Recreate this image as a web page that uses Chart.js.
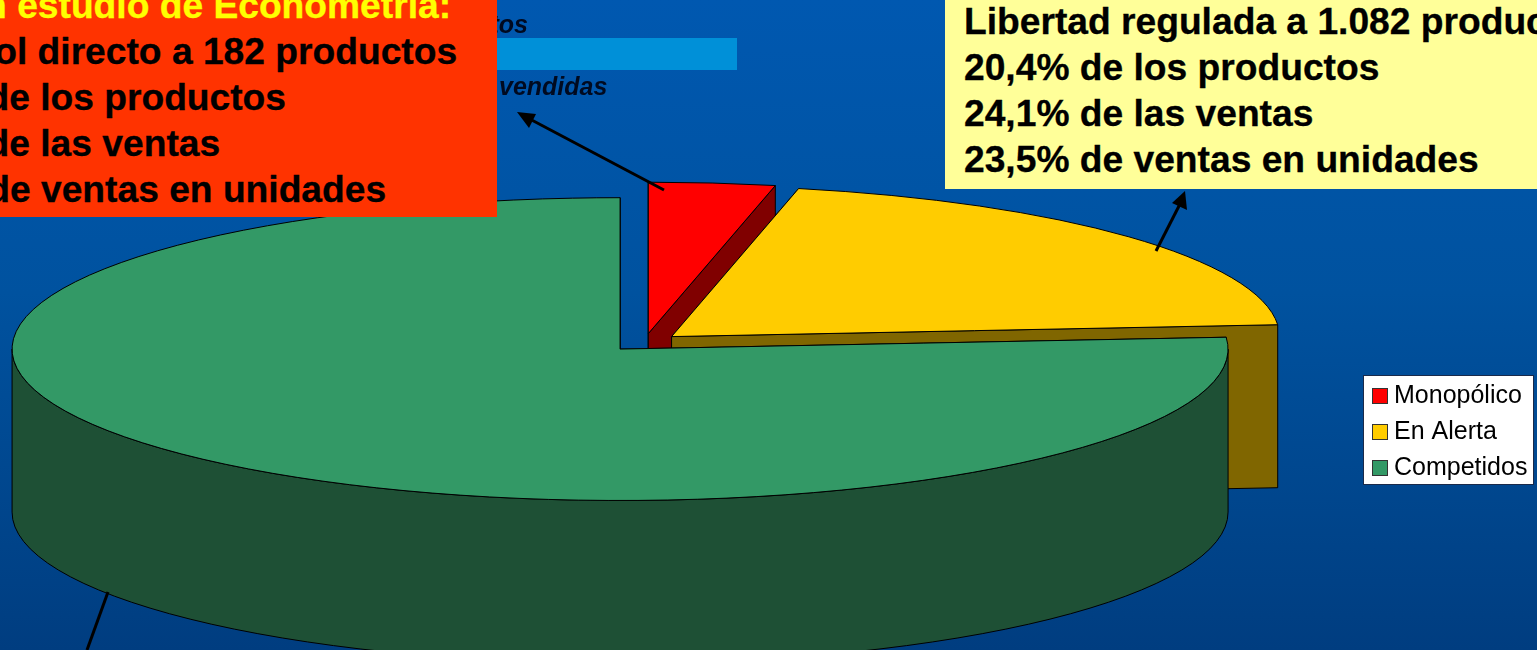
<!DOCTYPE html>
<html lang="es">
<head>
<meta charset="utf-8">
<title>Control de precios</title>
<script src="https://cdn.jsdelivr.net/npm/chart.js@4"></script>
<style>
html,body{margin:0;padding:0;width:1537px;height:650px;overflow:hidden}
body{position:relative;background:linear-gradient(180deg,#0058b0 0%,#00529f 45%,#003d80 100%);font-family:"Liberation Sans",Arial,sans-serif}
canvas{position:absolute;left:0;top:0}
.box{position:absolute}
.line{position:absolute;white-space:nowrap;font-weight:bold;font-size:36px;line-height:46px;color:#000;-webkit-text-stroke:0.3px currentColor}
.small{position:absolute;white-space:nowrap;font-weight:bold;font-style:italic;font-size:25px;line-height:26px;color:#000a20}
svg{position:absolute;left:0;top:0}
</style>
</head>
<body>
<canvas id="c" width="1537" height="650"></canvas>
<div class="box" style="left:497px;top:38px;width:240px;height:32px;background:#0090d8"></div>
<div class="small" style="right:1009px;top:11px">tos</div>
<div class="small" style="left:499px;top:73px">vendidas</div>
<div class="box" style="left:0;top:0;width:497px;height:217px;background:#ff3300"></div>
<div class="box" style="left:945px;top:0;width:592px;height:189px;background:#ffff99"></div>
<div id="labels"></div>
<svg width="1537" height="650" viewBox="0 0 1537 650">
  <g stroke="#000" stroke-width="3" fill="#000">
    <line x1="664" y1="190" x2="526" y2="117"/>
    <line x1="1156" y1="251" x2="1180" y2="204"/>
    <line x1="108" y1="592" x2="87" y2="650"/>
  </g>
  <polygon points="517,112 536,114 529,128" fill="#000"/>
  <polygon points="1185,191 1187,210 1172,203" fill="#000"/>
</svg>
<script>
const categories = ["Monopólico", "En Alerta", "Competidos"];
const productShare = [3.35, 20.4, 76.25];
const topColors = ["#ff0000", "#ffcc00", "#339966"];
const sideColors = ["#800000", "#806600", "#1e5035"];
const leftLines = ["n estudio de Econometría:", "ol directo a 182 productos", "de los productos", "de las ventas", "de ventas en unidades"];
const rightLines = ["Libertad regulada a 1.082 productos", "20,4% de los productos", "24,1% de las ventas", "23,5% de ventas en unidades"];

const labelsHost = document.getElementById("labels");
const leftEnds = [451, 457, 286, 220, 386];
leftLines.forEach((t, i) => {
  const d = document.createElement("div");
  d.className = "line";
  d.textContent = t;
  d.style.right = (1537 - leftEnds[i]) + "px";
  d.style.top = (-17 + 46 * i) + "px";
  d.style.transformOrigin = "right center";
  d.style.transform = "scaleX(1.033)";
  if (i === 0) d.style.color = "#ffff00";
  labelsHost.appendChild(d);
});
rightLines.forEach((t, i) => {
  const d = document.createElement("div");
  d.className = "line";
  d.textContent = t;
  d.style.left = "964px";
  d.style.top = (-1 + 46 * i) + "px";
  d.style.transformOrigin = "left center";
  d.style.transform = "scaleX(1.033)";
  labelsHost.appendChild(d);
});

const TILT = 0.249, DEPTH = 163;

function swatch(color) {
  const s = document.createElement("canvas");
  s.width = 16; s.height = 16;
  const g = s.getContext("2d");
  g.fillStyle = color; g.fillRect(0, 0, 16, 16);
  g.strokeStyle = "#333"; g.lineWidth = 1; g.strokeRect(0.5, 0.5, 15, 15);
  return s;
}

const pie3d = {
  id: "pie3d",
  afterLayout(chart) {
    const l = chart.legend;
    l.left = 1367.5; l.right = 1533; l.top = 372.5; l.bottom = 600;
  },
  beforeDraw(chart) {
    const ctx = chart.ctx;
    ctx.save();
    ctx.fillStyle = "#fff"; ctx.strokeStyle = "#1a2a4a"; ctx.lineWidth = 1;
    ctx.fillRect(1364, 376, 169, 108);
    ctx.strokeRect(1363.5, 375.5, 170, 109);
    ctx.restore();
  },
  beforeDatasetDraw(chart, args) {
    const ctx = chart.ctx;
    const arcs = args.meta.data;
    ctx.save();
    ctx.lineWidth = 1;
    ctx.strokeStyle = "#000";
    ctx.lineJoin = "round";
    arcs.forEach((el, i) => {
      const a0 = el.startAngle, a1 = el.endAngle, r = el.outerRadius;
      const mid = (a0 + a1) / 2, off = el.options.offset;
      const cx = el.x + Math.cos(mid) * off, cy = el.y + Math.sin(mid) * off * TILT;
      const at = (a) => [cx + r * Math.cos(a), cy + r * TILT * Math.sin(a)];
      const paint = (fill) => { ctx.fillStyle = fill; ctx.fill(); ctx.stroke(); };
      [a0, a1].forEach((a) => {
        const p = at(a);
        ctx.beginPath();
        ctx.moveTo(cx, cy); ctx.lineTo(p[0], p[1]);
        ctx.lineTo(p[0], p[1] + DEPTH); ctx.lineTo(cx, cy + DEPTH);
        ctx.closePath();
        paint(sideColors[i]);
      });
      const turn = Math.PI * 2;
      for (let k = -1; k <= 1; k++) {
        const s = Math.max(a0, k * turn), e = Math.min(a1, k * turn + Math.PI);
        if (e > s) {
          ctx.beginPath();
          ctx.ellipse(cx, cy, r, r * TILT, 0, s, e);
          ctx.ellipse(cx, cy + DEPTH, r, r * TILT, 0, e, s, true);
          ctx.closePath();
          paint(sideColors[i]);
        }
      }
      ctx.beginPath();
      ctx.moveTo(cx, cy);
      ctx.ellipse(cx, cy, r, r * TILT, 0, a0, a1);
      ctx.closePath();
      paint(topColors[i]);
    });
    ctx.restore();
    return false;
  }
};

new Chart(document.getElementById("c"), {
  type: "pie",
  data: {
    labels: categories,
    datasets: [{ data: productShare, backgroundColor: topColors, borderColor: "#000", borderWidth: 1, offset: 36 }]
  },
  options: {
    responsive: false,
    animation: false,
    radius: 608,
    rotation: 0,
    layout: { padding: { left: 0, right: 248, top: 35, bottom: 0 } },
    plugins: {
      tooltip: { enabled: false },
      legend: {
        position: "chartArea",
        align: "start",
        labels: {
          usePointStyle: true,
          pointStyleWidth: 3,
          boxWidth: 3,
          boxHeight: 16,
          padding: 11,
          color: "#000",
          font: { family: "'Liberation Sans', Arial, sans-serif", size: 25 },
          generateLabels: (chart) => categories.map((text, i) => ({
            text, index: i, fillStyle: topColors[i], strokeStyle: "#333", lineWidth: 1,
            pointStyle: swatch(topColors[i]), hidden: false, fontColor: "#000"
          }))
        }
      }
    }
  },
  plugins: [pie3d]
});
</script>
</body>
</html>
